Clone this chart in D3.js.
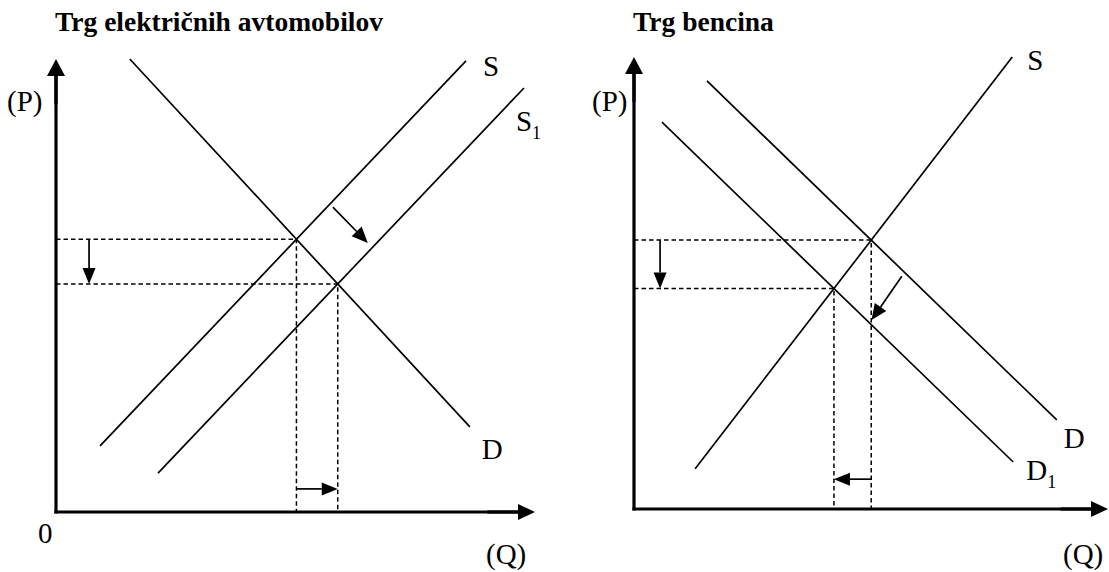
<!DOCTYPE html>
<html lang="sl">
<head>
<meta charset="UTF-8">
<title>Trg električnih avtomobilov / Trg bencina</title>
<script src="https://d3js.org/d3.v7.min.js"></script>
<style>
    body { margin: 0; background: #fff; }
    svg text { font-family: "Liberation Serif", "Times New Roman", serif; fill: #000; }
    .title { font-weight: bold; font-size: 27.5px; }
    .lab { font-size: 29px; }
    .sub { font-size: 18px; }
</style>
</head>
<body>
<svg width="1109" height="572"></svg>
<script>
    const titles = ["Trg električnih avtomobilov", "Trg bencina"];
    const axisNames = ["(P)", "(Q)", "0"];

    // curves as [Q, P] end points, both axes run 0..100 up to the arrow tips
    // left: electric cars, supply shifts right
    const carsS = [[85.6, 99.6], [9.2, 14.6]];
    const carsS1 = [[97.7, 93.6], [21.3, 8.6]];
    const carsD = [[15.4, 100], [86.4, 18.8]];
    const carsShift = [[57.8, 67.3], [65.1, 59.4]];

    // right: petrol, demand shifts left
    const fuelS = [[79.8, 100], [12.9, 8.9]];
    const fuelD = [[15.4, 94.7], [89.2, 19.7]];
    const fuelD1 = [[5.9, 85.6], [80.0, 10.4]];
    const fuelShift = [[56.5, 51.5], [50.1, 41.8]];

    const svg = d3.select("svg");

    const panels = [
        {
            title: titles[0], titleX: 55, range: [56, 535, 512, 59],
            curves: [
                {pts: carsS, name: "S", end: 0, dx: 17, dy: 15},
                {pts: carsS1, name: "S", sub: "1", end: 0, dx: -8, dy: 43},
                {pts: carsD, name: "D", end: 1, dx: 12, dy: 32}
            ],
            before: [carsD, carsS], after: [carsD, carsS1], shift: carsShift,
            priceArrowQ: 6.9, qtyArrowP: 5.1,
            pLab: [7, 111], qLab: [486, 564], zero: [38, 543]
        },
        {
            title: titles[1], titleX: 633, range: [634, 1108, 509, 57],
            curves: [
                {pts: fuelS, name: "S", end: 0, dx: 15, dy: 13},
                {pts: fuelD, name: "D", end: 1, dx: 7, dy: 28},
                {pts: fuelD1, name: "D", sub: "1", end: 1, dx: 13, dy: 18}
            ],
            before: [fuelD, fuelS], after: [fuelD1, fuelS], shift: fuelShift,
            priceArrowQ: 5.5, qtyArrowP: 6.6,
            pLab: [592, 111], qLab: [1063, 564], zero: null
        }
    ];

    function intersect(l1, l2) {
        const [[x1, y1], [x2, y2]] = l1, [[x3, y3], [x4, y4]] = l2;
        const d = (x1 - x2) * (y3 - y4) - (y1 - y2) * (x3 - x4);
        const t = ((x1 - x3) * (y3 - y4) - (y1 - y3) * (x3 - x4)) / d;
        return [x1 + t * (x2 - x1), y1 + t * (y2 - y1)];
    }

    // straight line with a filled triangle at (x2, y2)
    function arrow(g, x1, y1, x2, y2, len, half, sw) {
        const a = Math.atan2(y2 - y1, x2 - x1);
        const bx = x2 - len * Math.cos(a), by = y2 - len * Math.sin(a);
        const nx = half * Math.sin(a), ny = half * Math.cos(a);
        g.append("line")
            .attr("x1", x1).attr("y1", y1).attr("x2", bx).attr("y2", by)
            .attr("stroke", "#000").attr("stroke-width", sw);
        g.append("path")
            .attr("d", `M${x2},${y2}L${bx + nx},${by - ny}L${bx - nx},${by + ny}Z`)
            .attr("fill", "#000");
    }

    panels.forEach(function (p) {
        const [xa, xb, ya, yb] = p.range;
        const x = d3.scaleLinear().domain([0, 100]).range([xa, xb]);
        const y = d3.scaleLinear().domain([0, 100]).range([ya, yb]);
        const g = svg.append("g");

        g.append("text").attr("class", "title")
            .attr("x", p.titleX).attr("y", 31).text(p.title);

        // dashed guides for the two equilibria
        const e1 = intersect(p.before[0], p.before[1]);
        const e2 = intersect(p.after[0], p.after[1]);
        [e1, e2].forEach(function (e) {
            g.append("path")
                .attr("d", `M${x(0)},${y(e[1])}H${x(e[0])}V${y(0)}`)
                .attr("fill", "none").attr("stroke", "#000")
                .attr("stroke-width", 1.5).attr("stroke-dasharray", "4.5,3");
        });

        // curves
        const line = d3.line().x(d => x(d[0])).y(d => y(d[1]));
        p.curves.forEach(function (c) {
            g.append("path").attr("d", line(c.pts))
                .attr("fill", "none").attr("stroke", "#000").attr("stroke-width", 1.7);
            const t = g.append("text").attr("class", "lab")
                .attr("x", x(c.pts[c.end][0]) + c.dx)
                .attr("y", y(c.pts[c.end][1]) + c.dy)
                .text(c.name);
            if (c.sub) t.append("tspan").attr("class", "sub").attr("dy", 8).text(c.sub);
        });

        // axes
        g.append("line").attr("x1", x(0)).attr("y1", y(0) + 1.5)
            .attr("x2", x(0)).attr("y2", y(100) + 10)
            .attr("stroke", "#000").attr("stroke-width", 3.2);
        arrow(g, x(0), y(90), x(0), y(100), 17, 9, 3.2);
        g.append("line").attr("x1", x(0) - 1.6).attr("y1", y(0))
            .attr("x2", x(100) - 10).attr("y2", y(0))
            .attr("stroke", "#000").attr("stroke-width", 3.2);
        arrow(g, x(90), y(0), x(100), y(0), 17, 8, 3.2);

        // shift arrows
        const s = p.shift;
        arrow(g, x(s[0][0]), y(s[0][1]), x(s[1][0]), y(s[1][1]), 16, 7, 1.7);
        arrow(g, x(p.priceArrowQ), y(e1[1]), x(p.priceArrowQ), y(e2[1]), 16, 6.5, 1.7);
        arrow(g, x(e1[0]), y(p.qtyArrowP), x(e2[0]), y(p.qtyArrowP), 16, 6.5, 1.7);

        // axis names
        g.append("text").attr("class", "lab").attr("x", p.pLab[0]).attr("y", p.pLab[1]).text(axisNames[0]);
        g.append("text").attr("class", "lab").attr("x", p.qLab[0]).attr("y", p.qLab[1]).text(axisNames[1]);
        if (p.zero) g.append("text").attr("class", "lab").attr("x", p.zero[0]).attr("y", p.zero[1]).text(axisNames[2]);
    });
</script>
</body>
</html>
